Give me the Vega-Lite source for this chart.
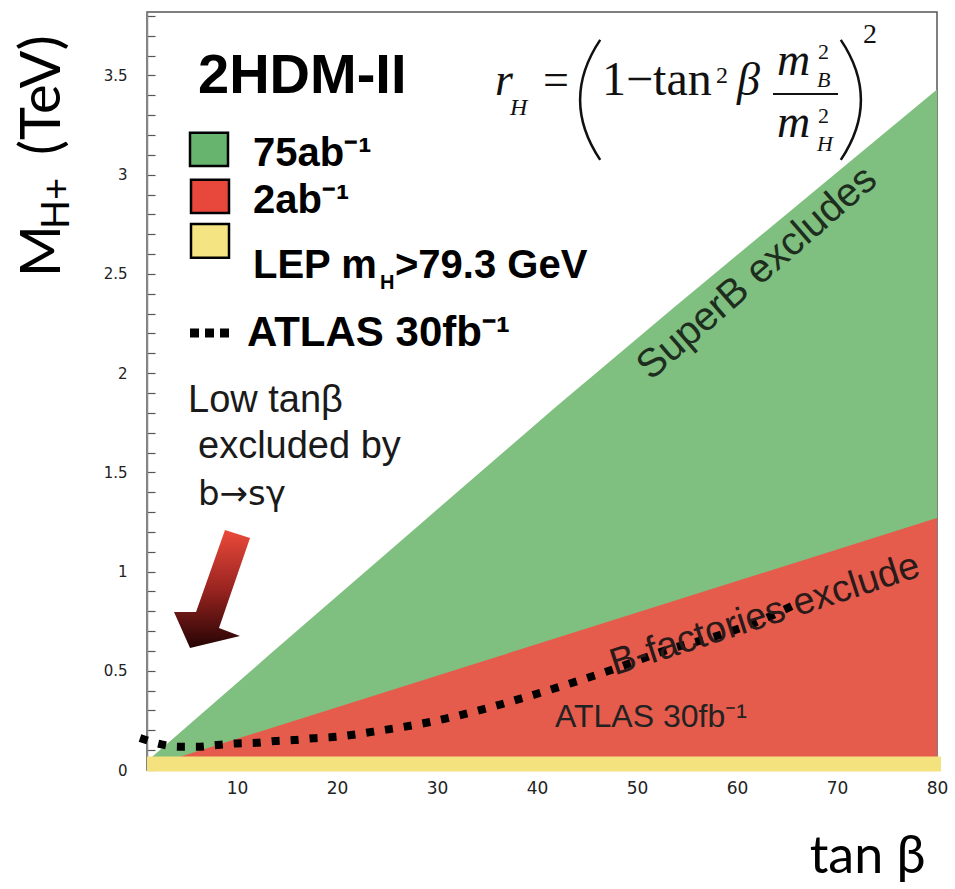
{
  "$schema": "https://vega.github.io/schema/vega-lite/v6.json",
  "width": 790,
  "height": 758,
  "autosize": {"type": "none"},
  "padding": {"left": 147, "top": 12, "right": 18, "bottom": 119},
  "background": "white",
  "config": {"view": {"stroke": "#555", "strokeWidth": 1.5}},
  "datasets": {
    "anno": [{}],
    "green": [
      {"tanb": 1, "m": 0.044}, {"tanb": 13.2, "m": 0.579}, {"tanb": 28.2, "m": 1.234},
      {"tanb": 41.9, "m": 1.83}, {"tanb": 53.9, "m": 2.34}, {"tanb": 80, "m": 3.43}
    ],
    "red": [
      {"tanb": 1, "m": 0.014}, {"tanb": 80, "m": 1.27}
    ],
    "lep": [{"tanb": 1, "m": 0.068}, {"tanb": 80.4, "m": 0.068}],
    "atlas": [
      {"tanb": 0.3, "m": 0.161}, {"tanb": 2.3, "m": 0.131}, {"tanb": 4.1, "m": 0.117},
      {"tanb": 6.1, "m": 0.117}, {"tanb": 8.0, "m": 0.126}, {"tanb": 10.0, "m": 0.134},
      {"tanb": 11.9, "m": 0.137}, {"tanb": 13.8, "m": 0.146}, {"tanb": 15.7, "m": 0.151},
      {"tanb": 17.6, "m": 0.16}, {"tanb": 19.6, "m": 0.166}, {"tanb": 24.5, "m": 0.2},
      {"tanb": 29.3, "m": 0.242}, {"tanb": 34, "m": 0.298}, {"tanb": 38.6, "m": 0.363},
      {"tanb": 43.3, "m": 0.436}, {"tanb": 48, "m": 0.514}, {"tanb": 53, "m": 0.605},
      {"tanb": 57.6, "m": 0.67}, {"tanb": 62, "m": 0.746}, {"tanb": 66.1, "m": 0.842}
    ]
  },
  "data": {"name": "anno"},
  "layer": [
    {
      "data": {"name": "green"},
      "mark": {"type": "area", "color": "#7fbf7f", "opacity": 1},
      "encoding": {
        "x": {"field": "tanb", "type": "quantitative",
          "scale": {"domain": [1, 80], "nice": false, "zero": false},
          "axis": {"values": [10, 20, 30, 40, 50, 60, 70, 80], "tickCount": 100, "format": "d", "grid": false,
            "domain": false, "ticks": true, "tickSize": -6, "tickColor": "#aaa",
            "labelFont": "DejaVu Sans", "labelFontSize": 17, "labelColor": "#222",
            "labelPadding": 16, "labelFlush": false, "labelOverlap": false,
            "title": "tan β", "titleFont": "Lato", "titleFontSize": 52, "titleFontWeight": "normal",
            "titleColor": "#000", "titleAnchor": "end", "titleAlign": "right",
            "titleBaseline": "alphabetic", "titleX": 778, "titleY": 102}},
        "y": {"field": "m", "type": "quantitative",
          "scale": {"domain": [0, 3.82], "nice": false, "zero": false},
          "axis": {"values": [0,0.1,0.2,0.3,0.4,0.5,0.6,0.7,0.8,0.9,1,1.1,1.2,1.3,1.4,1.5,1.6,1.7,1.8,1.9,2,2.1,2.2,2.3,2.4,2.5,2.6,2.7,2.8,2.9,3,3.1,3.2,3.3,3.4,3.5,3.6,3.7,3.8],
            "tickCount": 100, "format": "~g", "grid": false, "labelOverlap": false,
            "labelExpr": "abs(datum.value*2 - round(datum.value*2)) < 0.001 ? datum.label : ''",
            "tickSize": -8,
            "encode": {"ticks": {"update": {"x2": {"signal": "abs(datum.value*2 - round(datum.value*2)) < 0.001 ? 15 : 8"}}}},
            "tickColor": "#555", "tickWidth": 1.2, "domainColor": "#888", "domainWidth": 1.5,
            "labelFont": "DejaVu Sans", "labelFontSize": 15, "labelColor": "#222",
            "labelPadding": 28, "labelFlush": false, "title": null}},
        "y2": {"datum": 0}
      }
    },
    {
      "data": {"name": "red"},
      "mark": {"type": "area", "color": "#e65c4c", "opacity": 1},
      "encoding": {"x": {"field": "tanb", "type": "quantitative"}, "y": {"field": "m", "type": "quantitative"}, "y2": {"datum": 0}}
    },
    {
      "data": {"name": "lep"},
      "mark": {"type": "area", "color": "#f4e27e", "opacity": 1},
      "encoding": {"x": {"field": "tanb", "type": "quantitative"}, "y": {"field": "m", "type": "quantitative"}, "y2": {"datum": -0.008}}
    },
    {
      "data": {"name": "atlas"},
      "mark": {"type": "line", "color": "#000", "strokeWidth": 8, "strokeDash": [8, 11], "strokeCap": "butt", "interpolate": "monotone"},
      "encoding": {"x": {"field": "tanb", "type": "quantitative"}, "y": {"field": "m", "type": "quantitative"}}
    },
    {"mark": {"type": "text", "text": "2HDM-II", "font": "Liberation Sans", "fontWeight": "bold", "fontSize": 56, "align": "left", "baseline": "alphabetic", "color": "#000"},
     "encoding": {"x": {"datum": 6.1}, "y": {"datum": 3.412}}},
    {"mark": {"type": "rect", "color": "#66b46e", "stroke": "#000", "strokeWidth": 2.5, "opacity": 1},
     "encoding": {"x": {"datum": 5.3}, "x2": {"datum": 9.1}, "y": {"datum": 3.211}, "y2": {"datum": 3.044}}},
    {"mark": {"type": "rect", "color": "#e8483c", "stroke": "#000", "strokeWidth": 2.5, "opacity": 1},
     "encoding": {"x": {"datum": 5.4}, "x2": {"datum": 9.2}, "y": {"datum": 2.974}, "y2": {"datum": 2.807}}},
    {"mark": {"type": "rect", "color": "#f5e482", "stroke": "#000", "strokeWidth": 2.5, "opacity": 1},
     "encoding": {"x": {"datum": 5.4}, "x2": {"datum": 9.2}, "y": {"datum": 2.752}, "y2": {"datum": 2.581}}},
    {"mark": {"type": "text", "text": "75ab⁻¹", "font": "Liberation Sans", "fontWeight": "bold", "fontSize": 40, "align": "left", "baseline": "alphabetic", "color": "#000"},
     "encoding": {"x": {"datum": 11.6}, "y": {"datum": 3.044}}},
    {"mark": {"type": "text", "text": "2ab⁻¹", "font": "Liberation Sans", "fontWeight": "bold", "fontSize": 40, "align": "left", "baseline": "alphabetic", "color": "#000"},
     "encoding": {"x": {"datum": 11.6}, "y": {"datum": 2.807}}},
    {"mark": {"type": "text", "text": "LEP m", "font": "Liberation Sans", "fontWeight": "bold", "fontSize": 40, "align": "left", "baseline": "alphabetic", "color": "#000"},
     "encoding": {"x": {"datum": 11.6}, "y": {"datum": 2.48}}},
    {"mark": {"type": "text", "text": "H", "font": "Liberation Sans", "fontWeight": "bold", "fontSize": 20, "align": "left", "baseline": "alphabetic", "color": "#000"},
     "encoding": {"x": {"datum": 24.3}, "y": {"datum": 2.425}}},
    {"mark": {"type": "text", "text": ">79.3 GeV", "font": "Liberation Sans", "fontWeight": "bold", "fontSize": 40, "align": "left", "baseline": "alphabetic", "color": "#000"},
     "encoding": {"x": {"datum": 25.8}, "y": {"datum": 2.48}}},
    {"mark": {"type": "rule", "color": "#000", "strokeWidth": 9, "strokeDash": [9, 6], "strokeCap": "butt"},
     "encoding": {"x": {"datum": 5.3}, "x2": {"datum": 9.3}, "y": {"datum": 2.202}}},
    {"mark": {"type": "text", "text": "ATLAS 30fb⁻¹", "font": "Liberation Sans", "fontWeight": "bold", "fontSize": 42, "align": "left", "baseline": "alphabetic", "color": "#000"},
     "encoding": {"x": {"datum": 11.0}, "y": {"datum": 2.137}}},
    {"mark": {"type": "text", "text": "Low tanβ", "font": "Liberation Sans", "fontSize": 38, "align": "left", "baseline": "alphabetic", "color": "#1a1a1a"},
     "encoding": {"x": {"datum": 5.1}, "y": {"datum": 1.804}}},
    {"mark": {"type": "text", "text": "excluded by", "font": "Liberation Sans", "fontSize": 38, "align": "left", "baseline": "alphabetic", "color": "#1a1a1a"},
     "encoding": {"x": {"datum": 6.1}, "y": {"datum": 1.572}}},
    {"mark": {"type": "text", "text": "b→sγ", "font": "DejaVu Sans", "fontSize": 34, "align": "left", "baseline": "alphabetic", "color": "#1a1a1a"},
     "encoding": {"x": {"datum": 6.1}, "y": {"datum": 1.336}}},
    {"mark": {"type": "point", "shape": "M0.2,-1 L0.617,-0.867 L0.1,0.633 L0.45,0.767 L-0.383,0.967 L-0.65,0.367 L-0.283,0.367 Z",
       "size": 14400, "filled": true, "opacity": 1, "strokeWidth": 0,
       "fill": {"gradient": "linear", "x1": 0, "y1": 0, "x2": 0, "y2": 1, "stops": [{"offset": 0, "color": "#ea4a3a"}, {"offset": 0.5, "color": "#9a2420"}, {"offset": 1, "color": "#250404"}]}},
     "encoding": {"x": {"datum": 7.6}, "y": {"datum": 0.907}}},
    {"mark": {"type": "text", "text": "SuperB excludes", "font": "Liberation Sans", "fontSize": 40, "align": "center", "baseline": "middle", "angle": 319, "color": "#1e2e1e"},
     "encoding": {"x": {"datum": 62.0}, "y": {"datum": 2.505}}},
    {"mark": {"type": "text", "text": "B-factories exclude", "font": "Liberation Sans", "fontSize": 38, "align": "center", "baseline": "middle", "angle": 342, "color": "#2a1a1a"},
     "encoding": {"x": {"datum": 62.8}, "y": {"datum": 0.78}}},
    {"mark": {"type": "text", "text": "ATLAS 30fb⁻¹", "font": "Liberation Sans", "fontSize": 32, "align": "left", "baseline": "alphabetic", "color": "#222"},
     "encoding": {"x": {"datum": 41.8}, "y": {"datum": 0.217}}},
    {"mark": {"type": "text", "text": "r", "font": "Liberation Serif", "fontStyle": "italic", "fontSize": 46, "align": "left", "baseline": "alphabetic", "color": "#111"},
     "encoding": {"x": {"datum": 35.8}, "y": {"datum": 3.402}}},
    {"mark": {"type": "text", "text": "H", "font": "Liberation Serif", "fontStyle": "italic", "fontSize": 24, "align": "left", "baseline": "alphabetic", "color": "#111"},
     "encoding": {"x": {"datum": 37.3}, "y": {"datum": 3.301}}},
    {"mark": {"type": "text", "text": "=", "font": "Liberation Serif", "fontSize": 46, "align": "left", "baseline": "alphabetic", "color": "#111"},
     "encoding": {"x": {"datum": 40.6}, "y": {"datum": 3.402}}},
    {"mark": {"type": "point", "shape": "M0.17,-1 Q-0.5,0 0.17,1", "size": 14400, "filled": false, "color": "#111", "strokeWidth": 2.5, "opacity": 1},
     "encoding": {"x": {"datum": 45.3}, "y": {"datum": 3.377}}},
    {"mark": {"type": "text", "text": "1−tan", "font": "Liberation Serif", "fontSize": 48, "align": "left", "baseline": "alphabetic", "color": "#111"},
     "encoding": {"x": {"datum": 46.5}, "y": {"datum": 3.402}}},
    {"mark": {"type": "text", "text": "2", "font": "Liberation Serif", "fontSize": 24, "align": "left", "baseline": "alphabetic", "color": "#111"},
     "encoding": {"x": {"datum": 57.9}, "y": {"datum": 3.462}}},
    {"mark": {"type": "text", "text": "β", "font": "Liberation Serif", "fontStyle": "italic", "fontSize": 46, "align": "left", "baseline": "alphabetic", "color": "#111"},
     "encoding": {"x": {"datum": 60.0}, "y": {"datum": 3.402}}},
    {"mark": {"type": "text", "text": "m", "font": "Liberation Serif", "fontStyle": "italic", "fontSize": 46, "align": "left", "baseline": "alphabetic", "color": "#111"},
     "encoding": {"x": {"datum": 64.0}, "y": {"datum": 3.503}}},
    {"mark": {"type": "text", "text": "2", "font": "Liberation Serif", "fontSize": 22, "align": "left", "baseline": "alphabetic", "color": "#111"},
     "encoding": {"x": {"datum": 68.1}, "y": {"datum": 3.583}}},
    {"mark": {"type": "text", "text": "B", "font": "Liberation Serif", "fontStyle": "italic", "fontSize": 22, "align": "left", "baseline": "alphabetic", "color": "#111"},
     "encoding": {"x": {"datum": 68.0}, "y": {"datum": 3.442}}},
    {"mark": {"type": "rule", "color": "#111", "strokeWidth": 2},
     "encoding": {"x": {"datum": 63.6}, "x2": {"datum": 70.1}, "y": {"datum": 3.407}}},
    {"mark": {"type": "text", "text": "m", "font": "Liberation Serif", "fontStyle": "italic", "fontSize": 46, "align": "left", "baseline": "alphabetic", "color": "#111"},
     "encoding": {"x": {"datum": 64.0}, "y": {"datum": 3.19}}},
    {"mark": {"type": "text", "text": "2", "font": "Liberation Serif", "fontSize": 22, "align": "left", "baseline": "alphabetic", "color": "#111"},
     "encoding": {"x": {"datum": 68.1}, "y": {"datum": 3.261}}},
    {"mark": {"type": "text", "text": "H", "font": "Liberation Serif", "fontStyle": "italic", "fontSize": 22, "align": "left", "baseline": "alphabetic", "color": "#111"},
     "encoding": {"x": {"datum": 68.0}, "y": {"datum": 3.12}}},
    {"mark": {"type": "point", "shape": "M-0.17,-1 Q0.5,0 -0.17,1", "size": 14400, "filled": false, "color": "#111", "strokeWidth": 2.5, "opacity": 1},
     "encoding": {"x": {"datum": 71.4}, "y": {"datum": 3.377}}},
    {"mark": {"type": "text", "text": "2", "font": "Liberation Serif", "fontSize": 28, "align": "left", "baseline": "alphabetic", "color": "#111"},
     "encoding": {"x": {"datum": 72.6}, "y": {"datum": 3.664}}},
    {"mark": {"type": "text", "text": "M", "font": "Lato", "fontSize": 56, "angle": 270, "align": "left", "baseline": "alphabetic", "color": "#000"},
     "encoding": {"x": {"datum": -7.7}, "y": {"datum": 2.485}}},
    {"mark": {"type": "text", "text": "H+", "font": "Lato", "fontSize": 38, "angle": 270, "align": "left", "baseline": "alphabetic", "color": "#000"},
     "encoding": {"x": {"datum": -6.8}, "y": {"datum": 2.726}}},
    {"mark": {"type": "text", "text": "(TeV)", "font": "Lato", "fontSize": 56, "angle": 270, "align": "left", "baseline": "alphabetic", "color": "#000"},
     "encoding": {"x": {"datum": -7.7}, "y": {"datum": 3.099}}}
  ]
}
